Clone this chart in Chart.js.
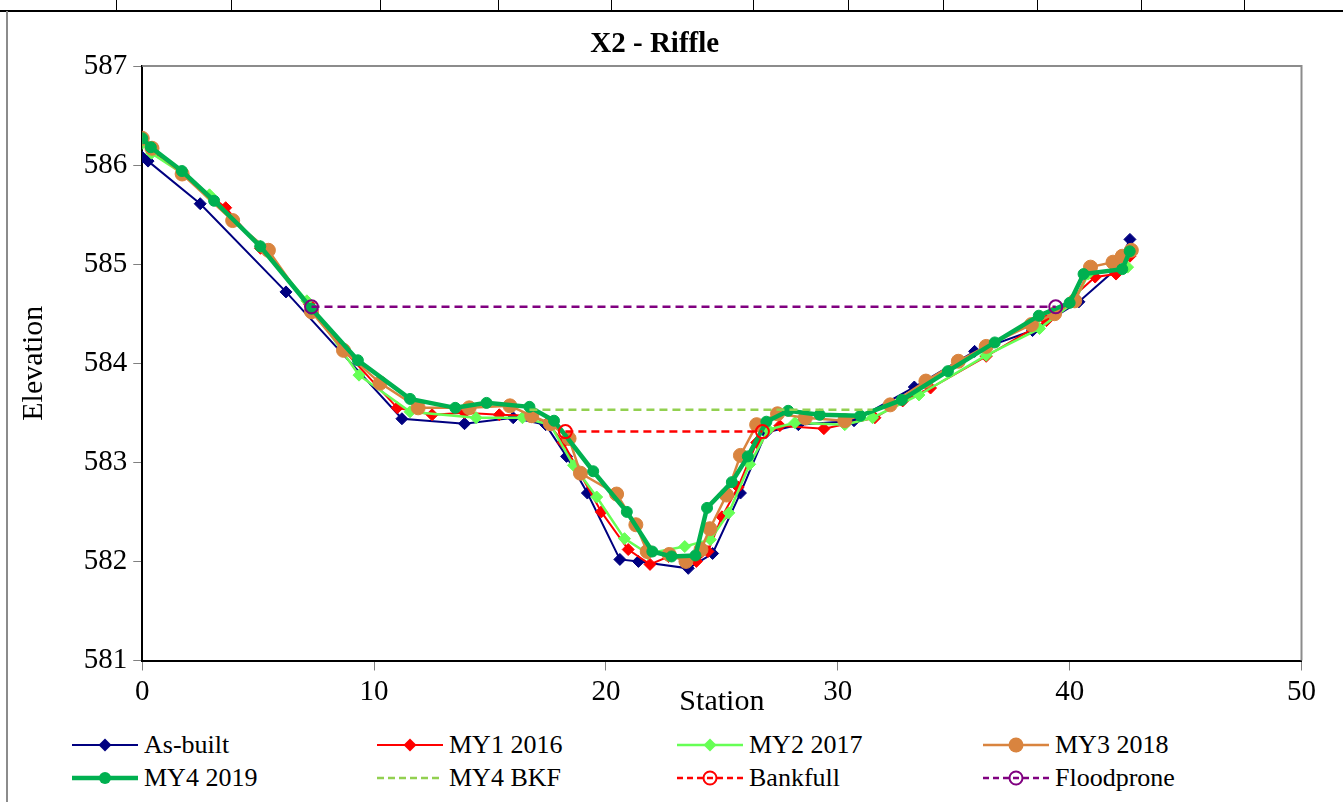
<!DOCTYPE html>
<html>
<head>
<meta charset="utf-8">
<title>X2 - Riffle</title>
<script src="https://cdn.jsdelivr.net/npm/chart.js@4.4.1/dist/chart.umd.min.js"></script>
<style>
  html, body { margin: 0; padding: 0; background: #fff; }
  body { width: 1343px; height: 802px; position: relative; overflow: hidden; font-family: "Liberation Serif", Tinos, Times, "Nimbus Roman", "DejaVu Serif", serif; }
  #frameTop { position: absolute; left: 0; top: 10px; width: 1343px; height: 2px; background: #000; }
  .cellTick { position: absolute; top: 0; width: 1px; height: 11px; background: #000; }
  #frameLeft { position: absolute; left: 6px; top: 11px; width: 2px; height: 791px; background: #8c8c8c; }
  #chartBox { position: absolute; left: 8px; top: 13px; width: 1335px; height: 715px; }
  #legend { position: absolute; left: 72px; top: 728px; display: grid; grid-template-columns: 305px 300px 306px 300px; grid-auto-rows: 33px; font-size: 26px; color: #000; }
  .item { display: flex; align-items: center; white-space: nowrap; }
  .item svg { margin-right: 6px; flex: none; }
</style>
</head>
<body>
<div id="frameTop"></div>
<div id="frameLeft"></div>
<div id="chartBox"><canvas id="chart_root"></canvas></div>
<div id="legend"></div>
<script>
// cross section X2 - Riffle, station (ft) vs elevation (ft)
const asBuiltStation = [0, 0.25, 2.5, 6.2, 11.2, 13.9, 16.0, 17.4, 18.3, 19.2, 20.6, 21.4, 23.55, 24.6, 25.8, 26.9, 28.3, 30.7, 33.3, 35.9, 38.4, 40.4, 42.0, 42.6];
const asBuiltElev = [586.08, 586.04, 585.61, 584.72, 583.44, 583.39, 583.45, 583.38, 583.06, 582.69, 582.02, 582.0, 581.93, 582.08, 582.69, 583.3, 583.38, 583.42, 583.76, 584.12, 584.33, 584.62, 584.95, 585.25];

const my1Station = [0, 0.4, 1.7, 3.6, 5.1, 7.2, 8.7, 11.0, 12.5, 13.9, 15.4, 16.7, 17.5, 18.15, 19.8, 20.96, 21.9, 22.7, 23.9, 24.4, 25.0, 25.7, 26.5, 27.5, 29.4, 31.6, 32.8, 34.0, 36.4, 39.0, 41.1, 42.0, 42.6];
const my1Elev = [586.25, 586.15, 585.92, 585.57, 585.16, 584.6, 584.13, 583.55, 583.48, 583.5, 583.48, 583.47, 583.4, 583.2, 582.5, 582.12, 581.97, 582.05, 582.0, 582.1, 582.45, 582.75, 583.2, 583.37, 583.34, 583.45, 583.62, 583.75, 584.07, 584.43, 584.87, 584.9, 585.08];

const my2Station = [0, 0.4, 1.7, 2.9, 5.1, 7.1, 9.35, 11.55, 14.4, 16.4, 17.6, 18.6, 19.6, 20.8, 21.8, 23.4, 24.5, 25.3, 26.2, 27.0, 28.15, 30.3, 31.5, 33.5, 36.4, 38.7, 40.2, 40.8, 42.5];
const my2Elev = [586.22, 586.12, 585.92, 585.7, 585.18, 584.63, 583.88, 583.51, 583.45, 583.45, 583.38, 582.97, 582.65, 582.23, 582.08, 582.15, 582.22, 582.49, 582.98, 583.33, 583.4, 583.38, 583.45, 583.68, 584.08, 584.35, 584.62, 584.9, 584.97];

const my3Station = [0, 0.42, 1.72, 3.9, 5.44, 7.3, 8.68, 10.26, 11.9, 14.1, 15.86, 16.8, 17.6, 18.41, 18.9, 20.46, 21.29, 21.78, 22.73, 23.45, 24.1, 24.48, 25.2, 25.8, 26.5, 27.4, 28.6, 30.3, 32.26, 33.8, 35.2, 36.4, 38.35, 39.35, 40.22, 40.9, 41.87, 42.27, 42.66];
const my3Elev = [586.27, 586.17, 585.91, 585.44, 585.14, 584.52, 584.13, 583.8, 583.55, 583.55, 583.57, 583.47, 583.39, 583.24, 582.89, 582.68, 582.37, 582.1, 582.07, 582.0, 582.12, 582.33, 582.67, 583.07, 583.38, 583.49, 583.45, 583.42, 583.58, 583.82, 584.02, 584.17, 584.39, 584.5, 584.63, 584.97, 585.02, 585.08, 585.14];

const my4Station = [0, 0.37, 1.71, 3.1, 5.09, 7.3, 9.3, 11.55, 13.5, 14.85, 16.7, 17.76, 19.45, 20.9, 22.0, 22.83, 23.86, 24.36, 25.43, 26.12, 26.92, 27.86, 29.22, 30.97, 32.76, 34.75, 36.77, 38.67, 40.0, 40.6, 42.27, 42.59];
const my4Elev = [586.27, 586.18, 585.94, 585.64, 585.18, 584.55, 584.03, 583.64, 583.55, 583.6, 583.56, 583.42, 582.91, 582.5, 582.1, 582.05, 582.06, 582.54, 582.8, 583.06, 583.41, 583.52, 583.48, 583.47, 583.63, 583.92, 584.21, 584.48, 584.61, 584.9, 584.95, 585.13];

const bkfStation = [16.7, 31.5];
const bkfElev = [583.53, 583.53];
const bankfullStation = [18.25, 26.75];
const bankfullElev = [583.31, 583.31];
const floodproneStation = [7.3, 39.4];
const floodproneElev = [584.57, 584.57];

const xTicks = [0, 10, 20, 30, 40, 50];
const yTicks = [581, 582, 583, 584, 585, 586, 587];

const FONT = '"Liberation Serif", Tinos, Times, "Nimbus Roman", "DejaVu Serif", serif';
const toPoints = (xs, ys) => xs.map((x, i) => ({ x, y: ys[i] }));

const datasets = [
  { label: 'As-built', data: toPoints(asBuiltStation, asBuiltElev), borderColor: '#000080', backgroundColor: '#000080',
    borderWidth: 2, pointStyle: 'rectRot', pointRadius: 6, order: 8 },
  { label: 'MY1 2016', data: toPoints(my1Station, my1Elev), borderColor: '#ff0000', backgroundColor: '#ff0000',
    borderWidth: 2, pointStyle: 'rectRot', pointRadius: 6, order: 7 },
  { label: 'MY2 2017', data: toPoints(my2Station, my2Elev), borderColor: '#66ff55', backgroundColor: '#66ff55',
    borderWidth: 2.5, pointStyle: 'rectRot', pointRadius: 6, order: 6 },
  { label: 'MY3 2018', data: toPoints(my3Station, my3Elev), borderColor: '#d9843f', backgroundColor: '#d9843f',
    borderWidth: 2.5, pointStyle: 'circle', pointRadius: 7, order: 5 },
  { label: 'MY4 2019', data: toPoints(my4Station, my4Elev), borderColor: '#00b050', backgroundColor: '#00b050',
    borderWidth: 4.5, pointStyle: 'circle', pointRadius: 5.5, order: 4 },
  { label: 'MY4 BKF', data: toPoints(bkfStation, bkfElev), borderColor: '#92d050', backgroundColor: '#92d050',
    borderWidth: 2.5, borderDash: [8, 5], pointRadius: 0, order: 3 },
  { label: 'Bankfull', data: toPoints(bankfullStation, bankfullElev), borderColor: '#ff0000', backgroundColor: 'rgba(0,0,0,0)',
    borderWidth: 2.5, borderDash: [8, 5], pointStyle: 'circle', pointRadius: 6.5, pointBorderWidth: 2, order: 2 },
  { label: 'Floodprone', data: toPoints(floodproneStation, floodproneElev), borderColor: '#800080', backgroundColor: 'rgba(0,0,0,0)',
    borderWidth: 2.5, borderDash: [8, 5], pointStyle: 'circle', pointRadius: 6.5, pointBorderWidth: 2, order: 1 }
];
datasets.forEach((d) => {
  d.pointBackgroundColor = d.backgroundColor;
  d.pointBorderColor = d.borderColor;
  d.pointBorderWidth = d.pointBorderWidth || 1;
  d.fill = false;
  d.tension = 0;
});

// spreadsheet cell edges along the top of the shot
[116, 231, 380, 498, 611, 753, 848, 943, 1037, 1141, 1244].forEach((x) => {
  const t = document.createElement('div');
  t.className = 'cellTick';
  t.style.left = x + 'px';
  document.body.appendChild(t);
});

// gray top/right edge of the plot area
const plotFrame = {
  id: 'plotFrame',
  beforeDatasetsDraw(chart) {
    const { ctx, chartArea: a } = chart;
    ctx.save();
    ctx.strokeStyle = '#8c8c8c';
    ctx.lineWidth = 2;
    ctx.beginPath();
    ctx.moveTo(a.left, a.top);
    ctx.lineTo(a.right, a.top);
    ctx.lineTo(a.right, a.bottom);
    ctx.stroke();
    ctx.restore();
  }
};

const sampleSvg = (d) => {
  const dash = d.borderDash ? ` stroke-dasharray="${d.label === 'MY4 BKF' ? '7 4' : '6 4'}"` : '';
  let marker = '';
  if (d.pointRadius > 0) {
    const r = d.pointRadius + 0.5;
    if (d.pointStyle === 'rectRot') {
      marker = `<polygon points="33,${10 - r} ${33 + r},10 33,${10 + r} ${33 - r},10" fill="${d.backgroundColor}"/>`;
    } else if (d.backgroundColor === 'rgba(0,0,0,0)') {
      marker = `<circle cx="33" cy="10" r="${r - 0.5}" fill="none" stroke="${d.borderColor}" stroke-width="2"/>`;
    } else {
      marker = `<circle cx="33" cy="10" r="${r}" fill="${d.backgroundColor}"/>`;
    }
  }
  return `<svg width="66" height="20"><line x1="0" y1="10" x2="66" y2="10" stroke="${d.borderColor}" stroke-width="${d.borderWidth}"${dash}/>${marker}</svg>`;
};

const htmlLegend = {
  id: 'htmlLegend',
  afterUpdate(chart) {
    const box = document.getElementById('legend');
    box.innerHTML = '';
    chart.data.datasets.forEach((d) => {
      const item = document.createElement('div');
      item.className = 'item';
      item.innerHTML = sampleSvg(d);
      const span = document.createElement('span');
      span.textContent = d.label;
      item.appendChild(span);
      box.appendChild(item);
    });
  }
};

const chartRootElt = document.getElementById('chart_root');

new Chart(chartRootElt, {
  type: 'line',
  data: { datasets },
  plugins: [plotFrame, htmlLegend],
  options: {
    responsive: true,
    maintainAspectRatio: false,
    animation: false,
    layout: { padding: { left: 0, right: 41.5, top: 0, bottom: 0 } },
    plugins: {
      legend: { display: false },
      tooltip: { enabled: false },
      title: {
        display: true,
        text: 'X2 - Riffle',
        color: '#000',
        font: { family: FONT, size: 29, weight: 'bold' },
        padding: { top: 14.6, bottom: 3.6 }
      }
    },
    scales: {
      x: {
        type: 'linear',
        min: 0,
        max: 50,
        afterBuildTicks: (scale) => { scale.ticks = xTicks.map((v) => ({ value: v })); },
        afterFit: (scale) => { scale.height = 67.5; },
        ticks: { color: '#000', font: { family: FONT, size: 29 }, padding: 4, maxRotation: 0 },
        grid: { drawOnChartArea: false, drawTicks: true, tickLength: 10, color: '#808080', tickWidth: 1 },
        border: { display: true, color: '#000', width: 2 },
        title: { display: true, text: 'Station', color: '#000', font: { family: FONT, size: 30 }, padding: { top: 0, bottom: 8 } }
      },
      y: {
        min: 581,
        max: 587,
        afterBuildTicks: (scale) => { scale.ticks = yTicks.map((v) => ({ value: v })); },
        afterFit: (scale) => { scale.width = 134.25; },
        ticks: { color: '#000', font: { family: FONT, size: 29 }, padding: 6 },
        grid: { drawOnChartArea: false, drawTicks: true, tickLength: 9, color: '#808080', tickWidth: 1 },
        border: { display: true, color: '#000', width: 2 },
        title: { display: true, text: 'Elevation', color: '#000', font: { family: FONT, size: 30 }, padding: { top: 8, bottom: 0 } }
      }
    }
  }
});
</script>
</body>
</html>
